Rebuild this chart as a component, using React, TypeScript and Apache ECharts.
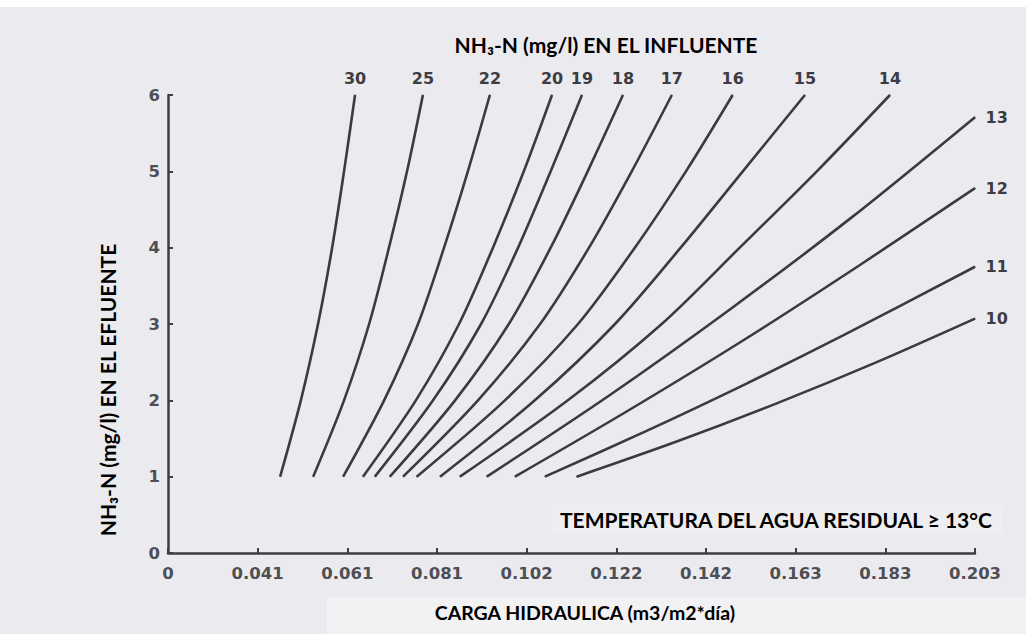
import React, { useEffect, useRef } from "react";
import * as echarts from "echarts";

// Broken x axis: equal spacing between ticks, first gap drawn as one step
const X_STEP = 0.02035;
const xTickLabels = ["0", "0.041", "0.061", "0.081", "0.102", "0.122", "0.142", "0.163", "0.183", "0.203"];
const yTickValues = [0, 1, 2, 3, 4, 5, 6];

// Influent NH3-N curves (mg/l) reaching the top of the chart (effluent 1..6 mg/l)
const yLevels = [1, 2, 3, 4, 5, 6];
const x30 = [0.0458, 0.0505, 0.0544, 0.0576, 0.0603, 0.0628];
const x25 = [0.0533, 0.0603, 0.066, 0.0705, 0.0746, 0.0782];
const x22 = [0.0601, 0.0694, 0.0771, 0.083, 0.0884, 0.0934];
const x20 = [0.0646, 0.0766, 0.0864, 0.0941, 0.1011, 0.1075];
const x19 = [0.0673, 0.0805, 0.0914, 0.0998, 0.1072, 0.1143];
const x18 = [0.0707, 0.0855, 0.0977, 0.1072, 0.1156, 0.1236];
const x17 = [0.0737, 0.0907, 0.1048, 0.1159, 0.1256, 0.1347];
const x16 = [0.0768, 0.0968, 0.1134, 0.1263, 0.1379, 0.1485];
const x15 = [0.0821, 0.1036, 0.1218, 0.1367, 0.1508, 0.1649];
const x14 = [0.0866, 0.1111, 0.1324, 0.1501, 0.1676, 0.1842];

// Curves ending at the right edge
const x13 = [0.0927, 0.1204, 0.1481, 0.1758, 0.2035];
const y13 = [1, 2.06, 3.2, 4.41, 5.71];
const x12 = [0.0991, 0.1252, 0.1513, 0.1773, 0.2035];
const y12 = [1, 1.88, 2.8, 3.77, 4.78];
const x11 = [0.1059, 0.1286, 0.1513, 0.1739, 0.2035];
const y11 = [1, 1.59, 2.21, 2.86, 3.75];
const x10 = [0.1131, 0.1358, 0.1585, 0.1812, 0.2035];
const y10 = [1, 1.46, 1.96, 2.5, 3.07];

const curves = [
  { name: "30", x: x30, y: yLevels, labelPos: "top" },
  { name: "25", x: x25, y: yLevels, labelPos: "top" },
  { name: "22", x: x22, y: yLevels, labelPos: "top" },
  { name: "20", x: x20, y: yLevels, labelPos: "top" },
  { name: "19", x: x19, y: yLevels, labelPos: "top" },
  { name: "18", x: x18, y: yLevels, labelPos: "top" },
  { name: "17", x: x17, y: yLevels, labelPos: "top" },
  { name: "16", x: x16, y: yLevels, labelPos: "top" },
  { name: "15", x: x15, y: yLevels, labelPos: "top" },
  { name: "14", x: x14, y: yLevels, labelPos: "top" },
  { name: "13", x: x13, y: y13, labelPos: "right" },
  { name: "12", x: x12, y: y12, labelPos: "right" },
  { name: "11", x: x11, y: y11, labelPos: "right" },
  { name: "10", x: x10, y: y10, labelPos: "right" },
];

const LINE = "#3a3a40";
const TICK_TEXT = "#4e4e54";
const TITLE_FONT = "Lato, 'Open Sans', sans-serif";

export default function App() {
  const ref = useRef<HTMLDivElement>(null);
  useEffect(() => {
    if (!ref.current) return;
    const chart = echarts.init(ref.current, null, { renderer: "svg" });
    const series = curves.map((c) => ({
      type: "line",
      name: c.name,
      smooth: 0.3,
      symbol: "circle",
      symbolSize: 1,
      showSymbol: true,
      itemStyle: { color: LINE },
      lineStyle: { color: LINE, width: 2.6 },
      silent: true,
      data: c.x.map((xv, i) =>
        i === c.x.length - 1
          ? {
              value: [xv, c.y[i]],
              label: {
                show: true,
                position: c.labelPos,
                distance: c.labelPos === "top" ? 8 : 10,
                formatter: c.name,
                color: "#3c3c42",
                fontFamily: "DejaVu Sans",
                fontWeight: "bold",
                fontSize: 16,
              },
            }
          : [xv, c.y[i]]
      ),
    }));

    chart.setOption({
      animation: false,
      backgroundColor: "#ebebef",
      grid: { left: 168, right: 51, top: 95, bottom: 81 },
      xAxis: {
        type: "value",
        min: X_STEP,
        max: X_STEP * 10,
        interval: X_STEP,
        axisLine: { show: true, onZero: false, lineStyle: { color: "#3d3d42", width: 2.5 } },
        axisTick: { show: true, inside: true, length: 5, lineStyle: { color: "#3d3d42", width: 2 } },
        splitLine: { show: false },
        axisLabel: {
          color: TICK_TEXT,
          fontFamily: "DejaVu Sans",
          fontWeight: "bold",
          fontSize: 16.5,
          margin: 12,
          formatter: (v: number) => {
            const i = Math.round(v / X_STEP) - 1;
            return xTickLabels[i] ?? "";
          },
        },
      },
      yAxis: {
        type: "value",
        min: yTickValues[0],
        max: yTickValues[yTickValues.length - 1],
        interval: 1,
        axisLine: { show: true, lineStyle: { color: "#3d3d42", width: 2.5 } },
        axisTick: { show: true, inside: true, length: 5, lineStyle: { color: "#3d3d42", width: 2 } },
        splitLine: { show: false },
        axisLabel: {
          color: TICK_TEXT,
          fontFamily: "DejaVu Sans",
          fontWeight: "bold",
          fontSize: 16.5,
          margin: 8,
        },
      },
      graphic: [
        { type: "rect", z: -10, shape: { x: 0, y: 0, width: 1026, height: 7 }, style: { fill: "#ffffff" } },
        { type: "rect", z: -10, shape: { x: 327, y: 597, width: 699, height: 37 }, style: { fill: "#f2f2f5" } },
        { type: "rect", z: -10, shape: { x: 552, y: 505, width: 450, height: 29 }, style: { fill: "#eeeef1" } },
        {
          type: "text",
          x: 606,
          y: 44,
          style: {
            text: "NH₃-N (mg/l) EN EL INFLUENTE",
            fontFamily: TITLE_FONT,
            fontWeight: "bold",
            fontSize: 21,
            fill: "#000",
            textAlign: "center",
            textVerticalAlign: "middle",
          },
        },
        {
          type: "text",
          x: 107,
          y: 390,
          rotation: Math.PI / 2,
          style: {
            text: "NH₃-N (mg/l) EN EL EFLUENTE",
            fontFamily: TITLE_FONT,
            fontWeight: "bold",
            fontSize: 21,
            fill: "#000",
            textAlign: "center",
            textVerticalAlign: "middle",
          },
        },
        {
          type: "text",
          x: 585,
          y: 612,
          style: {
            text: "CARGA HIDRAULICA (m3/m2*día)",
            fontFamily: TITLE_FONT,
            fontWeight: "bold",
            fontSize: 19.5,
            fill: "#000",
            textAlign: "center",
            textVerticalAlign: "middle",
          },
        },
        {
          type: "text",
          x: 560,
          y: 519,
          style: {
            text: "TEMPERATURA DEL AGUA RESIDUAL ≥ 13°C",
            fontFamily: TITLE_FONT,
            fontWeight: "bold",
            fontSize: 21,
            fill: "#000",
            textAlign: "left",
            textVerticalAlign: "middle",
          },
        },
      ],
      series,
    });
    return () => chart.dispose();
  }, []);
  return <div ref={ref} style={{ position: "absolute", left: 0, top: 0, width: 1026, height: 634 }} />;
}
